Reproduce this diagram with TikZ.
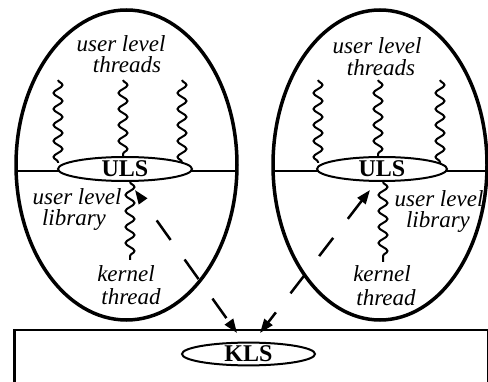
\documentclass[tikz,border=0pt]{standalone}
\usepackage{fontspec}
\setmainfont{Liberation Serif}[ItalicFont={Liberation Serif Italic},BoldFont={Liberation Serif Bold}]
\usetikzlibrary{shapes.geometric,decorations.pathmorphing,arrows.meta}
\begin{document}
\begin{tikzpicture}[x=1pt,y=-1pt,
  shell/.style={draw,ellipse,line width=3.5pt,inner sep=0pt,minimum height=310pt},
  sched/.style={draw,ellipse,fill=white,line width=2pt,inner sep=0pt,
    font=\fontsize{24}{24}\selectfont\bfseries},
  lbl/.style={font=\fontsize{23}{23}\selectfont\itshape,anchor=base,inner sep=0pt},
  wig/.style={line width=2pt,decorate,decoration={snake,segment length=16pt,amplitude=4.5pt}},
  msg/.style={line width=2.5pt,
    {Triangle[length=14pt,width=10pt]}-{Triangle[length=14pt,width=10pt]}},
  sep/.style={line width=2pt}
]
\clip (0,0) rectangle (488,382);
\useasboundingbox (0,0) rectangle (488,382);

% address spaces
\node[shell,minimum width=221pt] (L) at (126.5,165) {};
\node[shell,minimum width=214pt] (R) at (380,165) {};

% user/kernel separators
\coordinate (l1) at (16,171); \coordinate (l2) at (237,171);
\coordinate (r1) at (273,171); \coordinate (r2) at (488,171);
\draw[sep] (l1) -- (l2);
\draw[sep] (r1) -- (r2);

% kernel box
\node[draw,line width=2.5pt,minimum width=474pt,minimum height=80pt,anchor=north west,inner sep=0pt] (os) at (13,329) {};

% schedulers
\node[sched,minimum width=134pt,minimum height=24pt] (ulsL) at (125,169) {ULS};
\node[sched,minimum width=130pt,minimum height=24pt] (ulsR) at (382,169) {ULS};
\node[sched,minimum width=133pt,minimum height=22pt] (kls) at (248.5,354) {KLS};

% user level threads
\coordinate (tL1a) at (58,80);  \coordinate (tL1b) at (58,163);
\coordinate (tL2a) at (123,80); \coordinate (tL2b) at (123,157);
\coordinate (tL3a) at (182,80); \coordinate (tL3b) at (182,162);
\coordinate (tR1a) at (318,80); \coordinate (tR1b) at (318,163);
\coordinate (tR2a) at (378,80); \coordinate (tR2b) at (378,157);
\coordinate (tR3a) at (440,80); \coordinate (tR3b) at (440,163);
\draw[wig] (tL1a) -- (tL1b);
\draw[wig] (tL2a) -- (tL2b);
\draw[wig] (tL3a) -- (tL3b);
\draw[wig] (tR1a) -- (tR1b);
\draw[wig] (tR2a) -- (tR2b);
\draw[wig] (tR3a) -- (tR3b);

% kernel threads
\coordinate (kL) at (130,260); \coordinate (kR) at (383,262);
\draw[wig] (ulsL.south -| kL) -- (kL);
\draw[wig] (ulsR.south -| kR) -- (kR);

% labels
\node[lbl] (uL1) at (121,52) {user level};
\node[lbl] (uL2) at (127,73) {threads};
\node[lbl] (uR1) at (377,54) {user level};
\node[lbl] (uR2) at (381,76) {threads};
\node[lbl] (lL1) at (77,205) {user level};
\node[lbl] (lL2) at (74,226) {library};
\node[lbl] (lR1) at (439,207) {user level};
\node[lbl] (lR2) at (438,228) {library};
\node[lbl] (kL1) at (126,282) {kernel};
\node[lbl] (kL2) at (131,305) {thread};
\node[lbl] (kR1) at (382,282) {kernel};
\node[lbl] (kR2) at (386,306) {thread};

% upcalls / downcalls
\coordinate (a1) at (135,190); \coordinate (a2) at (237,333);
\coordinate (b1) at (370,190); \coordinate (b2) at (260,333);
\draw[msg,dash pattern=on 24pt off 24pt,dash phase=24pt] (a1) -- (a2);
\draw[msg,dash pattern=on 23pt off 24pt] (b1) -- (b2);
\end{tikzpicture}
\end{document}
